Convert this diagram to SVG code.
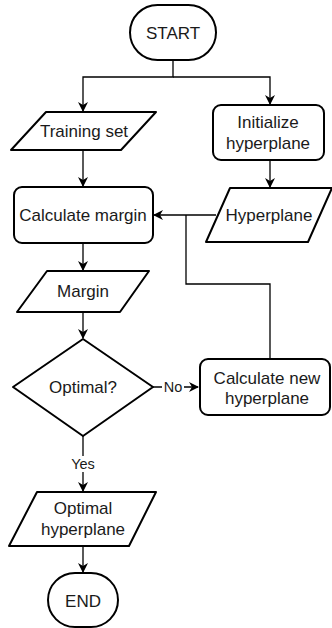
<svg xmlns="http://www.w3.org/2000/svg" width="332" height="628" viewBox="0 0 332 628">
<defs>
<style>
.n{fill:#fff;stroke:#000;stroke-width:2;stroke-linejoin:round}
.t{font-family:"Liberation Sans",Arial,sans-serif;font-size:17px;fill:#1a1a1a;text-anchor:middle;dominant-baseline:central}
.l{font-family:"Liberation Sans",Arial,sans-serif;font-size:14.5px;fill:#1a1a1a;text-anchor:middle;dominant-baseline:central}
.c{fill:none;stroke:#000;stroke-width:1.3}
</style>
<marker id="ar" viewBox="0 0 10 10" refX="9" refY="5" markerWidth="10" markerHeight="10" markerUnits="userSpaceOnUse" orient="auto">
<path d="M0,0 L10,5 L0,10 L3,5 Z" fill="#000"/>
</marker>
</defs>
<rect width="332" height="628" fill="#fff"/>
<g id="connectors">
<path class="c" d="M173,60 V77 H83 V111" marker-end="url(#ar)"/>
<path class="c" d="M173,77 H270 V104" marker-end="url(#ar)"/>
<path class="c" d="M83,150 V186" marker-end="url(#ar)"/>
<path class="c" d="M270,160 V187" marker-end="url(#ar)"/>
<path class="c" d="M216,215 H154" marker-end="url(#ar)"/>
<path class="c" d="M270,359 V284 H186 V215"/>
<path class="c" d="M83,243 V270" marker-end="url(#ar)"/>
<path class="c" d="M83,312 V338" marker-end="url(#ar)"/>
<path class="c" d="M153,387 H198" marker-end="url(#ar)"/>
<path class="c" d="M83,436 V491" marker-end="url(#ar)"/>
<path class="c" d="M83,546 V572" marker-end="url(#ar)"/>
<rect x="162" y="379" width="22" height="16" fill="#fff"/>
<text class="l" x="173" y="387">No</text>
<rect x="69" y="456" width="29" height="16" fill="#fff"/>
<text class="l" x="83" y="464">Yes</text>
</g>
<g id="start">
<rect class="n" x="130" y="5" width="86" height="55" rx="27.5"/>
<text class="t" x="173" y="33">START</text>
</g>
<g id="training-set">
<path class="n" d="M46,112 H156 L121,150 H11 Z"/>
<text class="t" x="84" y="131">Training set</text>
</g>
<g id="initialize">
<rect class="n" x="213" y="105" width="111" height="55" rx="8"/>
<text class="t" x="268" y="122">Initialize</text>
<text class="t" x="268" y="143">hyperplane</text>
</g>
<g id="calculate-margin">
<rect class="n" x="14" y="187" width="139" height="56" rx="8"/>
<text class="t" x="83" y="215">Calculate margin</text>
</g>
<g id="hyperplane">
<path class="n" d="M230,188 H332 L308,242 H206 Z"/>
<text class="t" x="269" y="215">Hyperplane</text>
</g>
<g id="margin">
<path class="n" d="M47,271 H149 L120,312 H17 Z"/>
<text class="t" x="83" y="291">Margin</text>
</g>
<g id="optimal">
<path class="n" d="M83,339 L153,387 L83,436 L13,387 Z"/>
<text class="t" x="83" y="387">Optimal?</text>
</g>
<g id="calculate-new">
<rect class="n" x="200" y="359" width="130" height="56" rx="8"/>
<text class="t" x="267" y="378">Calculate new</text>
<text class="t" x="267" y="398">hyperplane</text>
</g>
<g id="optimal-hyperplane">
<path class="n" d="M37,492 H156 L129,546 H9 Z"/>
<text class="t" x="83" y="508">Optimal</text>
<text class="t" x="83" y="529">hyperplane</text>
</g>
<g id="end">
<rect class="n" x="48" y="573" width="70" height="54" rx="27"/>
<text class="t" x="83" y="601">END</text>
</g>
</svg>
